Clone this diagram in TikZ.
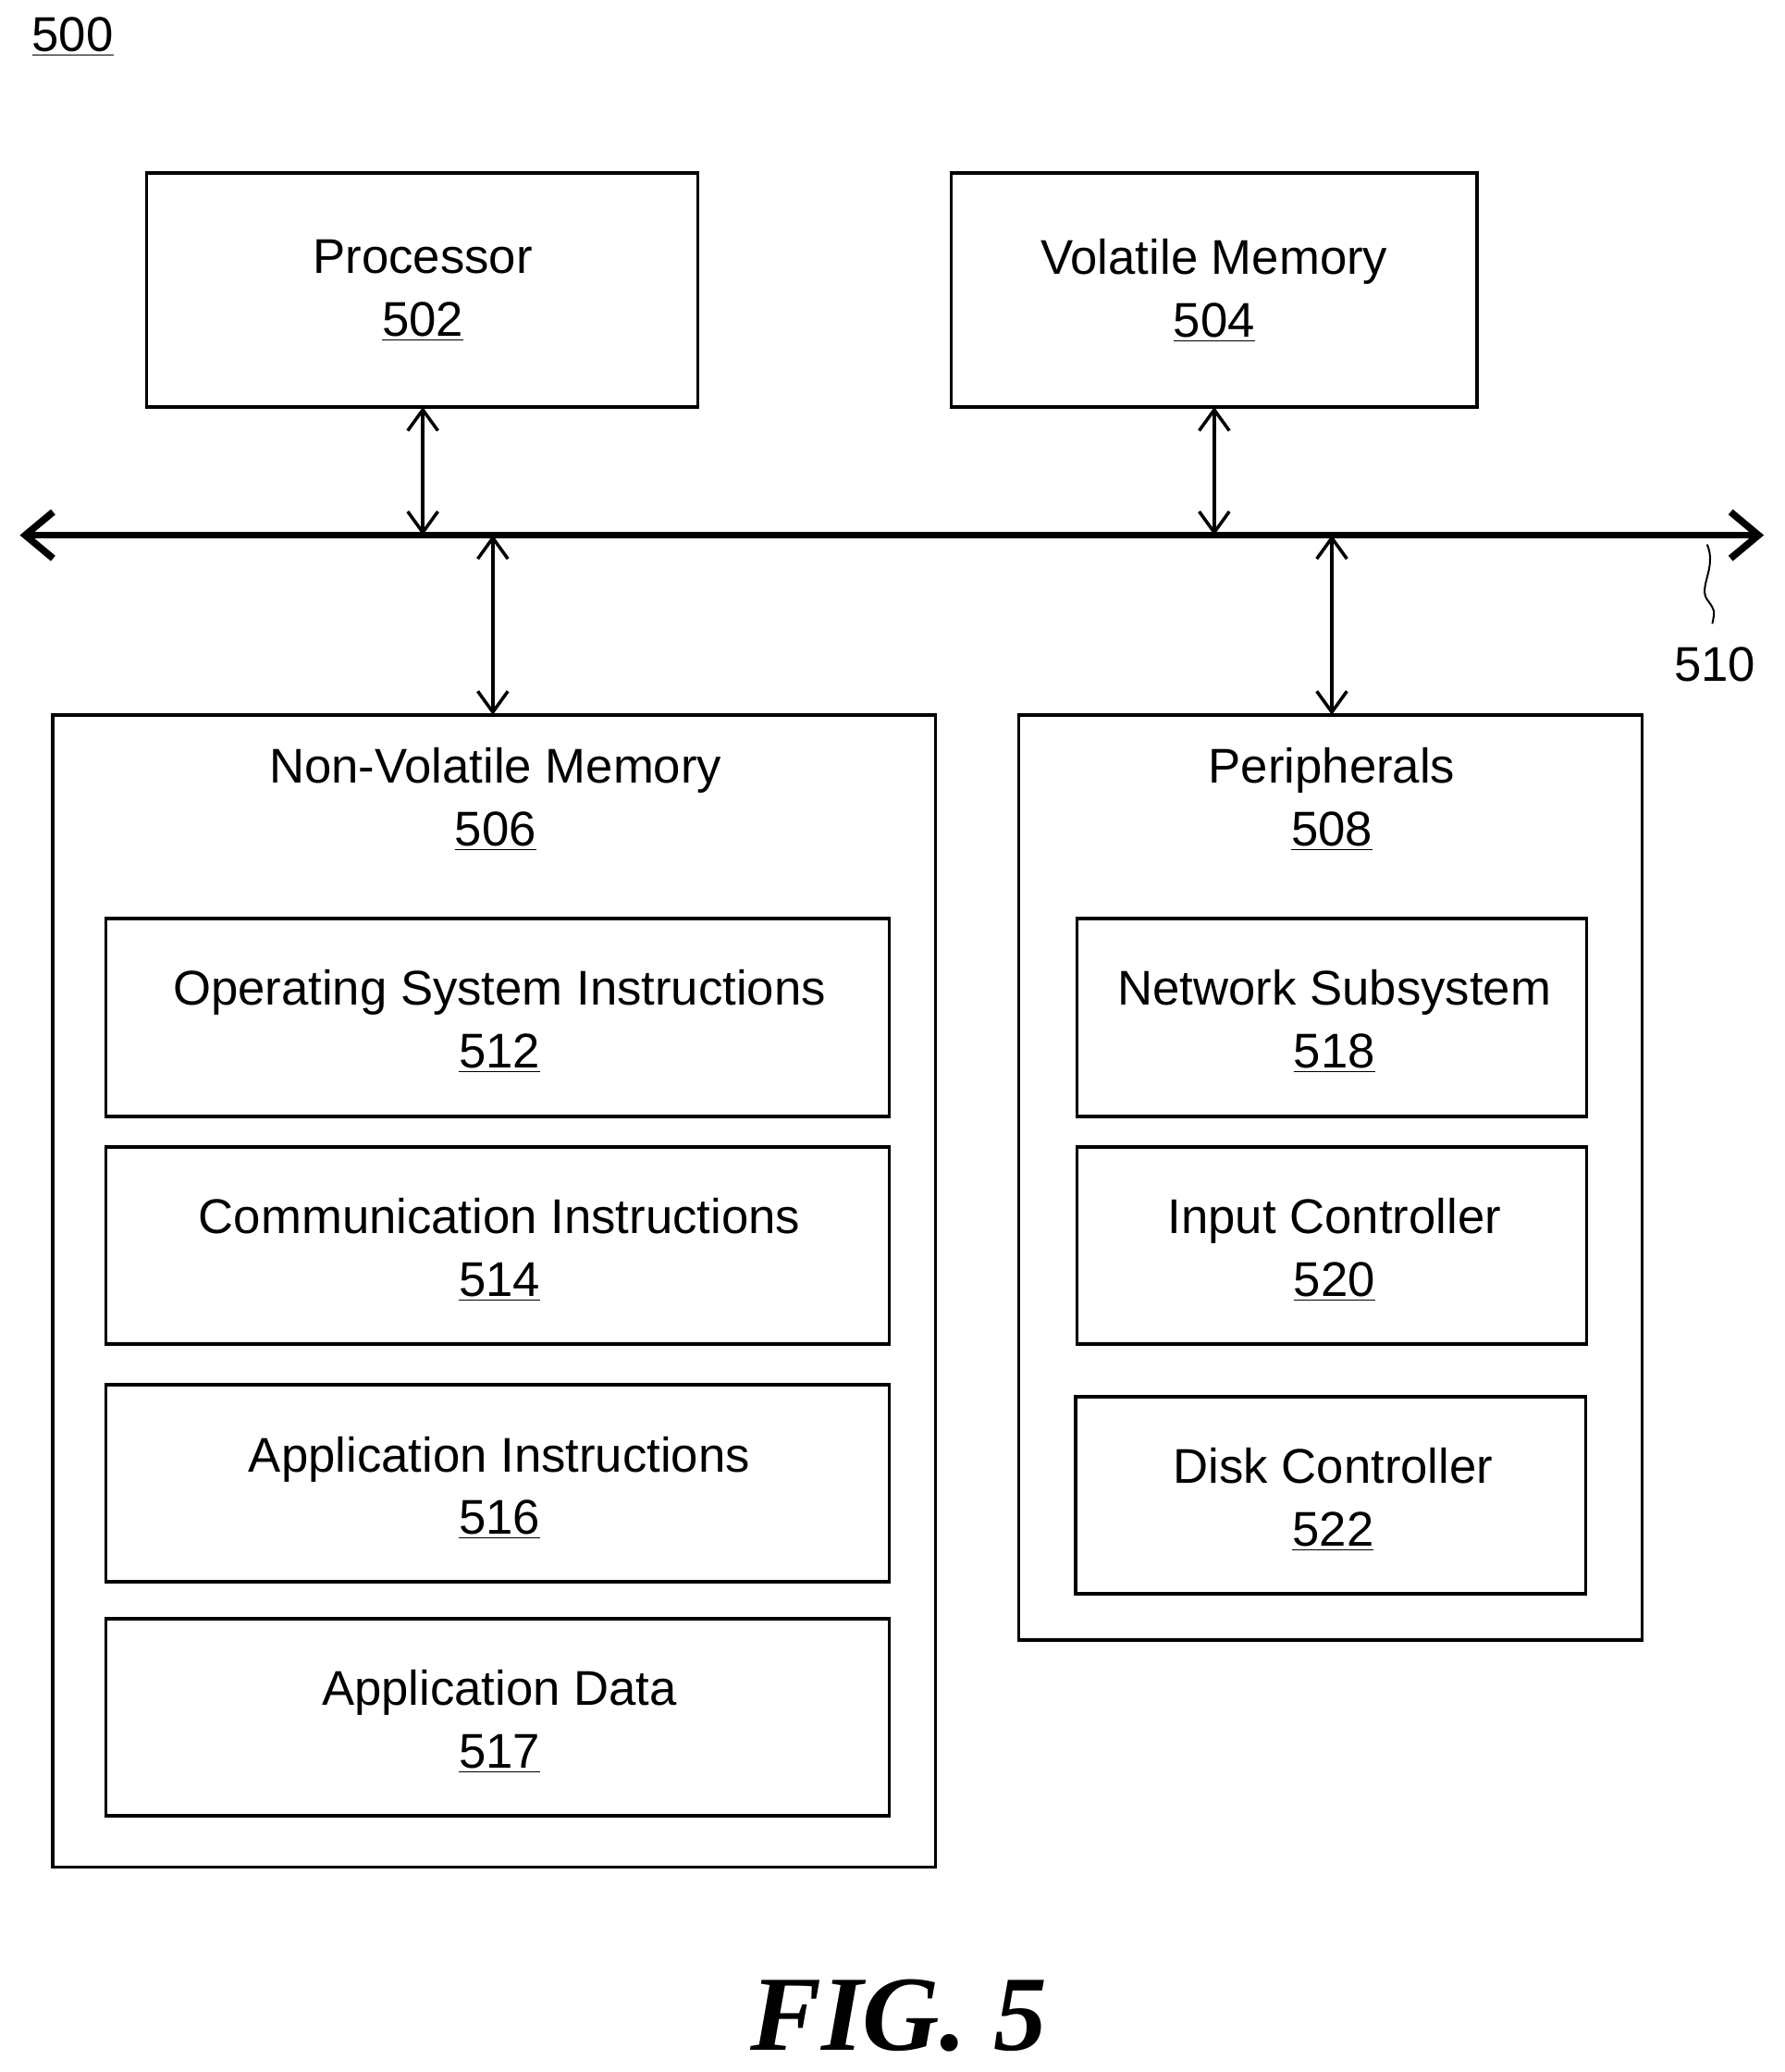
\documentclass[tikz,border=0pt]{standalone}
\usepackage{fontspec}
\setmainfont{Liberation Sans}
\newfontfamily\figfont{Liberation Serif}
\usetikzlibrary{arrows.meta}
\begin{document}
\begin{tikzpicture}[x=0.02cm,y=-0.02cm,
  box/.style={draw,line width=1.4pt,inner sep=0pt},
  lbl/.style={font=\fontsize{21}{27}\selectfont,align=center},
  conn/.style={line width=1.4pt,{Straight Barb[length=9pt,width=13pt,line width=1.4pt]}-{Straight Barb[length=9pt,width=13pt,line width=1.4pt]}},
  bus/.style={line width=3pt,{Straight Barb[length=12pt,width=20pt,line width=3pt]}-{Straight Barb[length=12pt,width=20pt,line width=3pt]}}]
\useasboundingbox (0,0) rectangle (1351,1568);
\node[lbl,anchor=west] (l500) at (18,28) {\underline{500}};
% top boxes
\draw[box] (111,131) rectangle (528,308);
\node[lbl] (proc) at (320,220) {Processor\\\underline{502}};
\draw[box] (720,131) rectangle (1118,308);
\node[lbl] (vol) at (919,220) {Volatile Memory\\\underline{504}};
% bus
\coordinate (bl) at (15,405); \coordinate (br) at (1335,405);
\draw[bus] (bl) -- (br);
\coordinate (p1) at (320,308); \coordinate (p2) at (320,405);
\coordinate (v1) at (919,308); \coordinate (v2) at (919,405);
\coordinate (n1) at (373,405); \coordinate (n2) at (373,541);
\coordinate (q1) at (1008,405); \coordinate (q2) at (1008,541);
\draw[conn] (p1) -- (p2);
\draw[conn] (v1) -- (v2);
\draw[conn] (n1) -- (n2);
\draw[conn] (q1) -- (q2);
\coordinate (s1) at (1292,412); \coordinate (s2) at (1296,472);
\draw[line width=0.8pt] (s1) .. controls (1300,430) and (1284,445) .. (1293,455) .. controls (1298,462) .. (s2);
\node[lbl] (l510) at (1298,503) {510};
% NVM
\draw[box] (40,541) rectangle (708,1413);
\node[lbl] (nvm) at (375,605) {Non-Volatile Memory\\\underline{506}};
\draw[box] (80,695) rectangle (673,845);
\node[lbl] (os) at (378,773) {Operating System Instructions\\\underline{512}};
\draw[box] (80,868) rectangle (673,1017);
\node[lbl] (com) at (378,946) {Communication Instructions\\\underline{514}};
\draw[box] (80,1048) rectangle (673,1197);
\node[lbl] (app) at (378,1126) {Application Instructions\\\underline{516}};
\draw[box] (80,1225) rectangle (673,1374);
\node[lbl] (dat) at (378,1303) {Application Data\\\underline{517}};
% Peripherals
\draw[box] (771,541) rectangle (1243,1241);
\node[lbl] (per) at (1008,605) {Peripherals\\\underline{508}};
\draw[box] (815,695) rectangle (1201,845);
\node[lbl] (net) at (1010,773) {Network Subsystem\\\underline{518}};
\draw[box] (815,868) rectangle (1201,1017);
\node[lbl] (inp) at (1010,946) {Input Controller\\\underline{520}};
\draw[box] (814,1057) rectangle (1200,1206);
\node[lbl] (dsk) at (1009,1135) {Disk Controller\\\underline{522}};
\node (fig) at (680,1525) {\figfont\bfseries\itshape\fontsize{46}{50}\selectfont FIG. 5};
\end{tikzpicture}
\end{document}
